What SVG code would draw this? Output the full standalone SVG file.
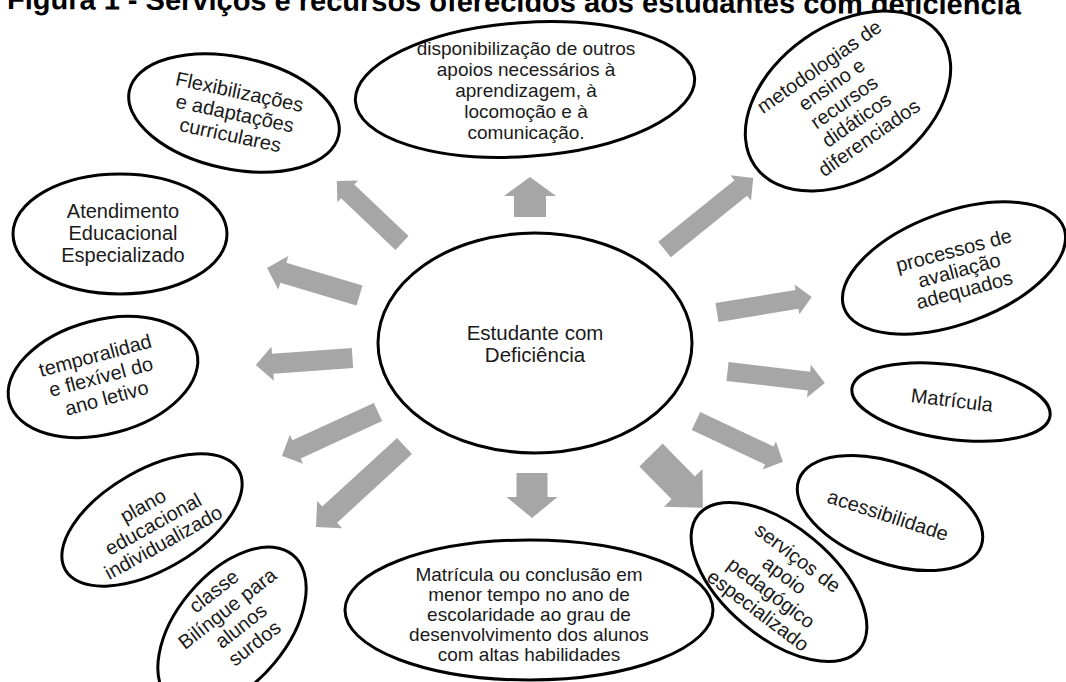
<svg xmlns="http://www.w3.org/2000/svg" width="1066" height="682" viewBox="0 0 1066 682">
<style>
.bg{fill:#fff}
.n ellipse{fill:#fff;stroke:#000;stroke-width:3}
.n text{font-family:"Liberation Sans",Arial,sans-serif;font-size:20px;fill:#1a1a1a;text-anchor:middle}
.t{font-family:"Liberation Sans",Arial,sans-serif;font-weight:bold;font-size:29px;fill:#000}
.a{fill:#a6a6a6}
</style>
<rect class="bg" x="0" y="0" width="1066" height="682"/>
<text class="t" x="7" y="9" transform="rotate(0.3 0 9)">Figura 1 - Serviços e recursos oferecidos aos estudantes com deficiência</text>

<g id="connectors">
<polygon class="a" transform="translate(530,217) rotate(-90)" points="0,-16 21,-16 21,-26 40,0 21,26 21,16 0,16"/>
<polygon class="a" transform="translate(532,473) rotate(90)" points="0,-15.5 24,-15.5 24,-25.5 45,0 24,25.5 24,15.5 0,15.5"/>
<polygon class="a" transform="translate(402,243) rotate(-136.4)" points="0,-9.5 75,-9.5 75,-15 90,0 75,15 75,9.5 0,9.5"/>
<polygon class="a" transform="translate(359.5,295.5) rotate(196.6)" points="0,-10.5 79.5,-10.5 79.5,-17.5 96.5,0 79.5,17.5 79.5,10.5 0,10.5"/>
<polygon class="a" transform="translate(352.5,358) rotate(175.9)" points="0,-10 80,-10 80,-17 97,0 80,17 80,10 0,10"/>
<polygon class="a" transform="translate(378,412) rotate(155.4)" points="0,-10 89.6,-10 89.6,-16 105.6,0 89.6,16 89.6,10 0,10"/>
<polygon class="a" transform="translate(404.5,446) rotate(137.5)" points="0,-11 101.5,-11 101.5,-18.5 120,0 101.5,18.5 101.5,11 0,11"/>
<polygon class="a" transform="translate(651,455) rotate(45.5)" points="0,-16.3 46,-16.3 46,-27 74,0 46,27 46,16.3 0,16.3"/>
<polygon class="a" transform="translate(696,421) rotate(25.2)" points="0,-10 81,-10 81,-15.5 96,0 81,15.5 81,10 0,10"/>
<polygon class="a" transform="translate(727.5,371.5) rotate(6.7)" points="0,-9.5 82,-9.5 82,-16.5 98,0 82,16.5 82,9.5 0,9.5"/>
<polygon class="a" transform="translate(717,312.5) rotate(-9.3)" points="0,-9.5 81,-9.5 81,-15 96,0 81,15 81,9.5 0,9.5"/>
<polygon class="a" transform="translate(664.5,249.5) rotate(-38.9)" points="0,-10 98,-10 98,-16.3 114,0 98,16.3 98,10 0,10"/>
</g>

<g id="node-center" class="n">
<ellipse cx="535" cy="343" rx="157" ry="110"/>
<text x="535" y="340" style="font-size:20.5px">Estudante com</text>
<text x="535" y="362" style="font-size:20.5px">Deficiência</text>
</g>

<g id="node-disponibilizacao" class="n">
<ellipse transform="translate(525,89.5) rotate(-4)" cx="0" cy="0" rx="170" ry="67"/>
<text x="526" y="55" style="font-size:19px">disponibilização de outros</text>
<text x="526" y="76" style="font-size:19px">apoios necessários à</text>
<text x="526" y="97" style="font-size:19px">aprendizagem, à</text>
<text x="526" y="118" style="font-size:19px">locomoção e à</text>
<text x="526" y="139" style="font-size:19px">comunicação.</text>
</g>

<g id="node-flexibilizacoes" class="n">
<ellipse transform="translate(234,113) rotate(12)" cx="0" cy="0" rx="107" ry="56"/>
<g transform="translate(234,113) rotate(12)">
<text x="1" y="-15">Flexibilizações</text>
<text x="1" y="7">e adaptações</text>
<text x="1" y="29">curriculares</text>
</g>
</g>

<g id="node-atendimento" class="n">
<ellipse cx="120" cy="234" rx="107" ry="60"/>
<text x="123" y="218">Atendimento</text>
<text x="123" y="240">Educacional</text>
<text x="123" y="262">Especializado</text>
</g>

<g id="node-temporalidad" class="n">
<ellipse transform="translate(103,377) rotate(-15)" cx="0" cy="0" rx="97" ry="57"/>
<g transform="translate(103,377) rotate(-15)">
<text x="-2" y="-16">temporalidad</text>
<text x="-2" y="6">e flexível do</text>
<text x="-2" y="28">ano letivo</text>
</g>
</g>

<g id="node-plano" class="n">
<ellipse transform="translate(152,520) rotate(-30)" cx="0" cy="0" rx="100" ry="50"/>
<g transform="translate(152,520) rotate(-29)">
<text x="-1" y="-10">plano</text>
<text x="-1" y="11">educacional</text>
<text x="-1" y="32">individualizado</text>
</g>
</g>

<g id="node-classe" class="n">
<ellipse transform="translate(232,628) rotate(-50)" cx="0" cy="0" rx="95" ry="55"/>
<g transform="translate(234,617) rotate(-38)">
<text x="0" y="-26">classe</text>
<text x="0" y="-4">Bilíngue para</text>
<text x="0" y="18">alunos</text>
<text x="0" y="40">surdos</text>
</g>
</g>

<g id="node-matricula-conclusao" class="n">
<ellipse cx="529" cy="610" rx="184" ry="70"/>
<text x="529" y="581" style="font-size:19px">Matrícula ou conclusão em</text>
<text x="529" y="601" style="font-size:19px">menor tempo no ano de</text>
<text x="529" y="621" style="font-size:19px">escolaridade ao grau de</text>
<text x="529" y="641" style="font-size:19px">desenvolvimento dos alunos</text>
<text x="529" y="661" style="font-size:19px">com altas habilidades</text>
</g>

<g id="node-servicos" class="n">
<ellipse transform="translate(779,582) rotate(40)" cx="0" cy="0" rx="105" ry="55"/>
<g transform="translate(778,584) rotate(37)">
<text x="0" y="-26">serviços de</text>
<text x="0" y="-4">apoio</text>
<text x="0" y="18">pedagógico</text>
<text x="0" y="40">especializado</text>
</g>
</g>

<g id="node-acessibilidade" class="n">
<ellipse transform="translate(890,513) rotate(20)" cx="0" cy="0" rx="97" ry="50"/>
<text transform="translate(888,515) rotate(18)" x="0" y="7">acessibilidade</text>
</g>

<g id="node-matricula" class="n">
<ellipse transform="translate(951,402) rotate(8)" cx="0" cy="0" rx="100" ry="37"/>
<text transform="translate(952,400) rotate(7)" x="0" y="7">Matrícula</text>
</g>

<g id="node-processos" class="n">
<ellipse transform="translate(954,268) rotate(-20)" cx="0" cy="0" rx="117" ry="56"/>
<g transform="translate(959,270) rotate(-15)">
<text x="0" y="-13.5">processos de</text>
<text x="0" y="7">avaliação</text>
<text x="0" y="27.5">adequados</text>
</g>
</g>

<g id="node-metodologias" class="n">
<ellipse transform="translate(848,101) rotate(-35)" cx="0" cy="0" rx="113.5" ry="76"/>
<g transform="translate(844,102) rotate(-35)">
<text x="0" y="-36.4">metodologias de</text>
<text x="0" y="-14.7">ensino e</text>
<text x="0" y="7">recursos</text>
<text x="0" y="28.7">didáticos</text>
<text x="0" y="50.4">diferenciados</text>
</g>
</g>
</svg>
